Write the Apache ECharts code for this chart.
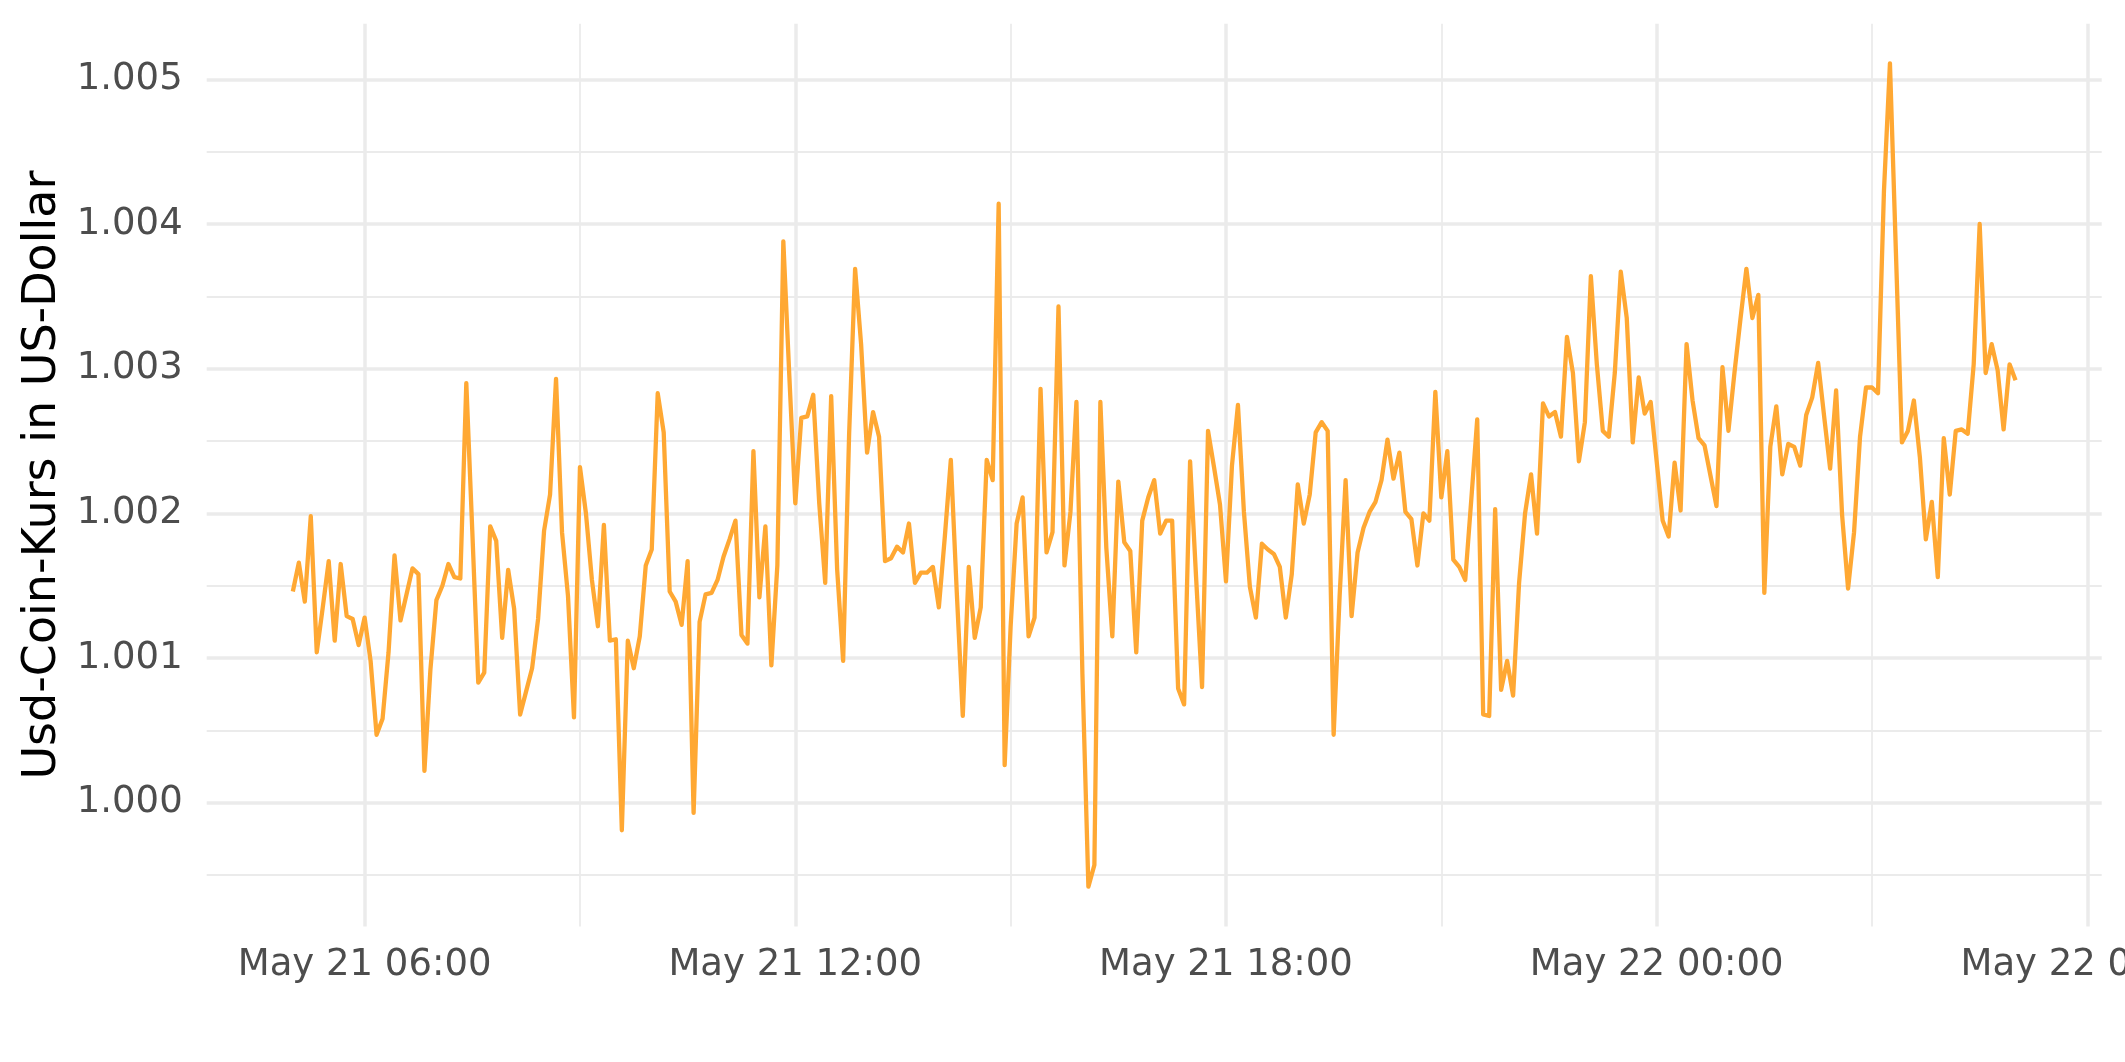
<!DOCTYPE html>
<html><head><meta charset="utf-8">
<script src="https://cdn.jsdelivr.net/npm/echarts@6/dist/echarts.min.js"></script>
<style>html,body{margin:0;padding:0;background:#fff}#chart{width:2125px;height:1062px}</style>
</head><body><div id="chart"></div>
<script>
const times = [
"2022-05-21 05:00","2022-05-21 05:05","2022-05-21 05:10","2022-05-21 05:15","2022-05-21 05:20","2022-05-21 05:25","2022-05-21 05:30","2022-05-21 05:35","2022-05-21 05:40","2022-05-21 05:45","2022-05-21 05:50","2022-05-21 05:55",
"2022-05-21 06:00","2022-05-21 06:05","2022-05-21 06:10","2022-05-21 06:15","2022-05-21 06:20","2022-05-21 06:25","2022-05-21 06:30","2022-05-21 06:35","2022-05-21 06:40","2022-05-21 06:45","2022-05-21 06:50","2022-05-21 06:55",
"2022-05-21 07:00","2022-05-21 07:05","2022-05-21 07:10","2022-05-21 07:15","2022-05-21 07:20","2022-05-21 07:25","2022-05-21 07:30","2022-05-21 07:35","2022-05-21 07:40","2022-05-21 07:45","2022-05-21 07:50","2022-05-21 07:55",
"2022-05-21 08:00","2022-05-21 08:05","2022-05-21 08:10","2022-05-21 08:15","2022-05-21 08:20","2022-05-21 08:25","2022-05-21 08:30","2022-05-21 08:35","2022-05-21 08:40","2022-05-21 08:45","2022-05-21 08:50","2022-05-21 08:55",
"2022-05-21 09:00","2022-05-21 09:05","2022-05-21 09:10","2022-05-21 09:15","2022-05-21 09:20","2022-05-21 09:25","2022-05-21 09:30","2022-05-21 09:35","2022-05-21 09:40","2022-05-21 09:45","2022-05-21 09:50","2022-05-21 09:55",
"2022-05-21 10:00","2022-05-21 10:05","2022-05-21 10:10","2022-05-21 10:15","2022-05-21 10:20","2022-05-21 10:25","2022-05-21 10:30","2022-05-21 10:35","2022-05-21 10:40","2022-05-21 10:45","2022-05-21 10:50","2022-05-21 10:55",
"2022-05-21 11:00","2022-05-21 11:05","2022-05-21 11:10","2022-05-21 11:15","2022-05-21 11:20","2022-05-21 11:25","2022-05-21 11:30","2022-05-21 11:35","2022-05-21 11:40","2022-05-21 11:45","2022-05-21 11:50","2022-05-21 11:55",
"2022-05-21 12:00","2022-05-21 12:05","2022-05-21 12:10","2022-05-21 12:15","2022-05-21 12:20","2022-05-21 12:25","2022-05-21 12:30","2022-05-21 12:35","2022-05-21 12:40","2022-05-21 12:45","2022-05-21 12:50","2022-05-21 12:55",
"2022-05-21 13:00","2022-05-21 13:05","2022-05-21 13:10","2022-05-21 13:15","2022-05-21 13:20","2022-05-21 13:25","2022-05-21 13:30","2022-05-21 13:35","2022-05-21 13:40","2022-05-21 13:45","2022-05-21 13:50","2022-05-21 13:55",
"2022-05-21 14:00","2022-05-21 14:05","2022-05-21 14:10","2022-05-21 14:15","2022-05-21 14:20","2022-05-21 14:25","2022-05-21 14:30","2022-05-21 14:35","2022-05-21 14:40","2022-05-21 14:45","2022-05-21 14:50","2022-05-21 14:55",
"2022-05-21 15:00","2022-05-21 15:05","2022-05-21 15:10","2022-05-21 15:15","2022-05-21 15:20","2022-05-21 15:25","2022-05-21 15:30","2022-05-21 15:35","2022-05-21 15:40","2022-05-21 15:45","2022-05-21 15:50","2022-05-21 15:55",
"2022-05-21 16:00","2022-05-21 16:05","2022-05-21 16:10","2022-05-21 16:15","2022-05-21 16:20","2022-05-21 16:25","2022-05-21 16:30","2022-05-21 16:35","2022-05-21 16:40","2022-05-21 16:45","2022-05-21 16:50","2022-05-21 16:55",
"2022-05-21 17:00","2022-05-21 17:05","2022-05-21 17:10","2022-05-21 17:15","2022-05-21 17:20","2022-05-21 17:25","2022-05-21 17:30","2022-05-21 17:35","2022-05-21 17:40","2022-05-21 17:45","2022-05-21 17:50","2022-05-21 17:55",
"2022-05-21 18:00","2022-05-21 18:05","2022-05-21 18:10","2022-05-21 18:15","2022-05-21 18:20","2022-05-21 18:25","2022-05-21 18:30","2022-05-21 18:35","2022-05-21 18:40","2022-05-21 18:45","2022-05-21 18:50","2022-05-21 18:55",
"2022-05-21 19:00","2022-05-21 19:05","2022-05-21 19:10","2022-05-21 19:15","2022-05-21 19:20","2022-05-21 19:25","2022-05-21 19:30","2022-05-21 19:35","2022-05-21 19:40","2022-05-21 19:45","2022-05-21 19:50","2022-05-21 19:55",
"2022-05-21 20:00","2022-05-21 20:05","2022-05-21 20:10","2022-05-21 20:15","2022-05-21 20:20","2022-05-21 20:25","2022-05-21 20:30","2022-05-21 20:35","2022-05-21 20:40","2022-05-21 20:45","2022-05-21 20:50","2022-05-21 20:55",
"2022-05-21 21:00","2022-05-21 21:05","2022-05-21 21:10","2022-05-21 21:15","2022-05-21 21:20","2022-05-21 21:25","2022-05-21 21:30","2022-05-21 21:35","2022-05-21 21:40","2022-05-21 21:45","2022-05-21 21:50","2022-05-21 21:55",
"2022-05-21 22:00","2022-05-21 22:05","2022-05-21 22:10","2022-05-21 22:15","2022-05-21 22:20","2022-05-21 22:25","2022-05-21 22:30","2022-05-21 22:35","2022-05-21 22:40","2022-05-21 22:45","2022-05-21 22:50","2022-05-21 22:55",
"2022-05-21 23:00","2022-05-21 23:05","2022-05-21 23:10","2022-05-21 23:15","2022-05-21 23:20","2022-05-21 23:25","2022-05-21 23:30","2022-05-21 23:35","2022-05-21 23:40","2022-05-21 23:45","2022-05-21 23:50","2022-05-21 23:55",
"2022-05-22 00:00","2022-05-22 00:05","2022-05-22 00:10","2022-05-22 00:15","2022-05-22 00:20","2022-05-22 00:25","2022-05-22 00:30","2022-05-22 00:35","2022-05-22 00:40","2022-05-22 00:45","2022-05-22 00:50","2022-05-22 00:55",
"2022-05-22 01:00","2022-05-22 01:05","2022-05-22 01:10","2022-05-22 01:15","2022-05-22 01:20","2022-05-22 01:25","2022-05-22 01:30","2022-05-22 01:35","2022-05-22 01:40","2022-05-22 01:45","2022-05-22 01:50","2022-05-22 01:55",
"2022-05-22 02:00","2022-05-22 02:05","2022-05-22 02:10","2022-05-22 02:15","2022-05-22 02:20","2022-05-22 02:25","2022-05-22 02:30","2022-05-22 02:35","2022-05-22 02:40","2022-05-22 02:45","2022-05-22 02:50","2022-05-22 02:55",
"2022-05-22 03:00","2022-05-22 03:05","2022-05-22 03:10","2022-05-22 03:15","2022-05-22 03:20","2022-05-22 03:25","2022-05-22 03:30","2022-05-22 03:35","2022-05-22 03:40","2022-05-22 03:45","2022-05-22 03:50","2022-05-22 03:55",
"2022-05-22 04:00","2022-05-22 04:05","2022-05-22 04:10","2022-05-22 04:15","2022-05-22 04:20","2022-05-22 04:25","2022-05-22 04:30","2022-05-22 04:35","2022-05-22 04:40","2022-05-22 04:45","2022-05-22 04:50","2022-05-22 04:55",
"2022-05-22 05:00"
];
const prices = [
1.00146,1.00166,1.00139,1.00198,1.00104,1.00135,1.00167,1.00112,1.00165,1.00129,1.00127,1.00109,
1.00128,1.00098,1.00047,1.00058,1.00104,1.00171,1.00126,1.00144,1.00162,1.00158,1.00022,1.00092,
1.00140,1.00150,1.00165,1.00156,1.00155,1.00290,1.00188,1.00083,1.00090,1.00191,1.00181,1.00114,
1.00161,1.00134,1.00061,1.00077,1.00093,1.00127,1.00188,1.00213,1.00293,1.00187,1.00143,1.00059,
1.00232,1.00200,1.00154,1.00122,1.00192,1.00112,1.00113,0.99981,1.00112,1.00093,1.00115,1.00164,
1.00175,1.00283,1.00256,1.00146,1.00139,1.00123,1.00167,0.99993,1.00125,1.00144,1.00145,1.00154,
1.00170,1.00182,1.00195,1.00116,1.00110,1.00243,1.00142,1.00191,1.00095,1.00164,1.00388,1.00295,
1.00207,1.00266,1.00267,1.00282,1.00207,1.00152,1.00281,1.00161,1.00098,1.00255,1.00369,1.00317,
1.00242,1.00270,1.00253,1.00167,1.00169,1.00177,1.00173,1.00193,1.00152,1.00159,1.00159,1.00163,
1.00135,1.00184,1.00237,1.00145,1.00060,1.00163,1.00114,1.00135,1.00237,1.00223,1.00414,1.00026,
1.00122,1.00193,1.00211,1.00115,1.00128,1.00286,1.00173,1.00187,1.00343,1.00164,1.00201,1.00277,
1.00089,0.99942,0.99957,1.00277,1.00176,1.00115,1.00222,1.00180,1.00174,1.00104,1.00195,1.00211,
1.00223,1.00186,1.00195,1.00195,1.00079,1.00068,1.00236,1.00156,1.00080,1.00257,1.00232,1.00206,
1.00153,1.00233,1.00275,1.00201,1.00149,1.00128,1.00179,1.00175,1.00172,1.00163,1.00128,1.00158,
1.00220,1.00193,1.00213,1.00256,1.00263,1.00257,1.00047,1.00143,1.00223,1.00129,1.00173,1.00190,
1.00201,1.00208,1.00223,1.00251,1.00224,1.00242,1.00201,1.00196,1.00164,1.00200,1.00195,1.00284,
1.00211,1.00243,1.00168,1.00163,1.00154,1.00209,1.00265,1.00061,1.00060,1.00203,1.00078,1.00098,
1.00074,1.00152,1.00200,1.00227,1.00186,1.00276,1.00267,1.00270,1.00253,1.00322,1.00297,1.00236,
1.00263,1.00364,1.00303,1.00257,1.00253,1.00297,1.00367,1.00335,1.00249,1.00294,1.00269,1.00277,
1.00236,1.00195,1.00184,1.00235,1.00202,1.00317,1.00278,1.00252,1.00247,1.00226,1.00205,1.00301,
1.00257,1.00297,1.00334,1.00369,1.00335,1.00351,1.00145,1.00246,1.00274,1.00227,1.00248,1.00246,
1.00233,1.00268,1.00280,1.00304,1.00267,1.00231,1.00285,1.00199,1.00148,1.00187,1.00253,1.00287,
1.00287,1.00283,1.00423,1.00511,1.00380,1.00249,1.00257,1.00278,1.00239,1.00182,1.00208,1.00156,
1.00252,1.00213,1.00257,1.00258,1.00255,1.00303,1.00400,1.00297,1.00317,1.00299,1.00258,1.00303,
1.00292
];
const yMajorTicks = [1.000, 1.001, 1.002, 1.003, 1.004, 1.005];
const yMinorTicks = [0.9995, 1.0005, 1.0015, 1.0025, 1.0035, 1.0045];
const xMajorTicks = ["2022-05-21 06:00","2022-05-21 12:00","2022-05-21 18:00","2022-05-22 00:00","2022-05-22 06:00"];
const xMinorTicks = ["2022-05-21 09:00","2022-05-21 15:00","2022-05-21 21:00","2022-05-22 03:00"];
const xRange = ["2022-05-21 03:48","2022-05-22 06:12"];
const yRange = [0.999145, 1.005384];
const yTitle = "Usd-Coin-Kurs in US-Dollar";
const monthNames = ["Jan","Feb","Mar","Apr","May","Jun","Jul","Aug","Sep","Oct","Nov","Dec"];

function toMs(s){
  const [d,t] = s.split(' ');
  const [Y,M,D] = d.split('-').map(Number);
  const [h,m] = t.split(':').map(Number);
  return Date.UTC(Y, M-1, D, h, m);
}
function pad(n){ return (n<10?'0':'') + n; }
function fmtTime(v){
  const d = new Date(v);
  return monthNames[d.getUTCMonth()] + ' ' + pad(d.getUTCDate()) + ' ' + pad(d.getUTCHours()) + ':' + pad(d.getUTCMinutes());
}

const seriesData = times.map((t, i) => [toMs(t), prices[i]]);
const FONT = 'DejaVu Sans';
const chart = echarts.init(document.getElementById('chart'), null, {renderer: 'canvas'});
chart.setOption({
  animation: false,
  backgroundColor: '#ffffff',
  grid: {left: 206.7, right: 23.3, top: 23.7, bottom: 135.5, containLabel: false, outerBoundsMode: 'none'},
  xAxis: [
    {
      type: 'value', min: toMs(xRange[0]), max: toMs(xRange[1]),
      axisLine: {show: false},
      axisTick: {show: false, customValues: xMajorTicks.map(toMs)},
      axisLabel: {customValues: xMajorTicks.map(toMs), formatter: fmtTime, color: '#4D4D4D', fontSize: 37, fontFamily: FONT, margin: 20, showMinLabel: true, showMaxLabel: true, hideOverlap: false},
      splitLine: {show: true, lineStyle: {color: '#EBEBEB', width: 3.5}}
    },
    {
      type: 'value', min: toMs(xRange[0]), max: toMs(xRange[1]), position: 'bottom',
      axisLine: {show: false},
      axisTick: {show: false, customValues: xMinorTicks.map(toMs)},
      axisLabel: {show: false},
      splitLine: {show: true, lineStyle: {color: '#EBEBEB', width: 1.8}}
    }
  ],
  yAxis: [
    {
      type: 'value', min: yRange[0], max: yRange[1],
      name: yTitle, nameLocation: 'middle', nameRotate: 90, nameGap: 141,
      nameTextStyle: {color: '#000000', fontSize: 46, fontFamily: FONT},
      axisLine: {show: false},
      axisTick: {show: false, customValues: yMajorTicks},
      axisLabel: {customValues: yMajorTicks, formatter: v => v.toFixed(3), color: '#4D4D4D', fontSize: 37, fontFamily: FONT, margin: 24},
      splitLine: {show: true, lineStyle: {color: '#EBEBEB', width: 3.5}}
    },
    {
      type: 'value', min: yRange[0], max: yRange[1], position: 'left',
      axisLine: {show: false},
      axisTick: {show: false, customValues: yMinorTicks},
      axisLabel: {show: false},
      splitLine: {show: true, lineStyle: {color: '#EBEBEB', width: 1.8}}
    }
  ],
  series: [{
    type: 'line', xAxisIndex: 0, yAxisIndex: 0,
    data: seriesData, showSymbol: false, symbol: 'none',
    lineStyle: {color: '#FFA833', width: 4.3, join: 'round'},
    z: 5
  }]
});
</script>
</body></html>
